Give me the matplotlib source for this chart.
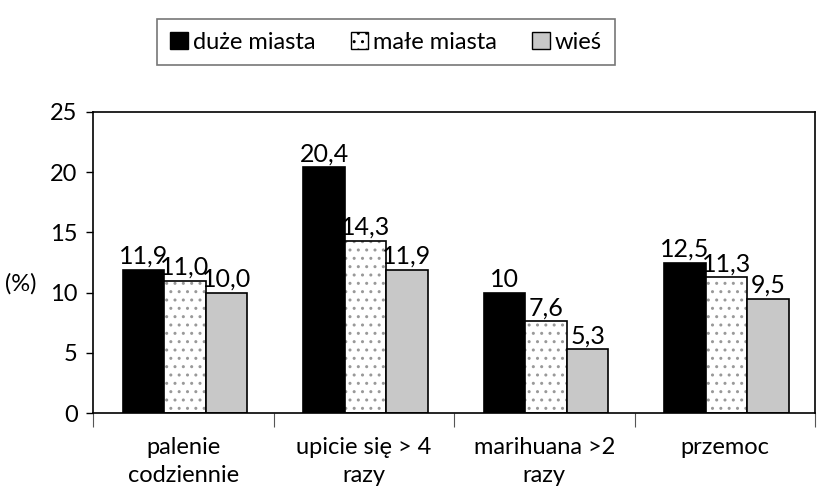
import matplotlib
matplotlib.use("Agg")
import matplotlib.pyplot as plt
from matplotlib.patches import Patch
import numpy as np

plt.rcParams['font.family'] = ['Lato', 'DejaVu Sans']

categories = ["palenie\ncodziennie", "upicie się > 4\nrazy", "marihuana >2\nrazy", "przemoc"]
series_names = ["duże miasta", "małe miasta", "wieś"]
duze = [11.9, 20.4, 10.0, 12.5]
male = [11.0, 14.3, 7.6, 11.3]
wies = [10.0, 11.9, 5.3, 9.5]
labels_duze = ["11,9", "20,4", "10", "12,5"]
labels_male = ["11,0", "14,3", "7,6", "11,3"]
labels_wies = ["10,0", "11,9", "5,3", "9,5"]

FS = 17


def main():
    fig = plt.figure(figsize=(8.34, 4.9), dpi=100)
    ax = fig.add_axes([93 / 834, 1 - 413 / 490, 722 / 834, 301 / 490])

    x = np.arange(len(categories))
    w = 0.23
    offs = [-w + 0.01, 0.01, w + 0.01]

    ax.bar(x + offs[0], duze, w, color="black", edgecolor="black", linewidth=1.2)
    ax.bar(x + offs[1], male, w, color="white", edgecolor="#999999", hatch="..", linewidth=0)
    ax.bar(x + offs[1], male, w, color="none", edgecolor="black", linewidth=1.2)
    ax.bar(x + offs[2], wies, w, color="#c8c8c8", edgecolor="black", linewidth=1.2)

    for vals, labs, off in [(duze, labels_duze, offs[0]), (male, labels_male, offs[1]),
                            (wies, labels_wies, offs[2])]:
        for i, (v, t) in enumerate(zip(vals, labs)):
            ax.text(x[i] + off, v + 0.15, t, ha="center", va="bottom", fontsize=FS + 1)

    ax.set_xlim(-0.5, 3.5)
    ax.set_ylim(0, 25)
    ax.set_yticks([0, 5, 10, 15, 20, 25])
    ax.tick_params(axis="y", labelsize=FS, length=5, direction="out", width=1, pad=6)
    ax.set_xticks([-0.5, 0.5, 1.5, 2.5, 3.5])
    ax.set_xticklabels([])
    ax.tick_params(axis="x", length=10, direction="out", width=0.8, color="#555555")
    for i, c in enumerate(categories):
        ax.text(x[i], -2.0, c, ha="center", va="top", fontsize=FS, linespacing=1.4)
    for s in ax.spines.values():
        s.set_linewidth(1.2)

    ax.set_ylabel("(%)", rotation=0, fontsize=FS, va="center", ha="center")
    ax.yaxis.set_label_coords(-0.1, 0.43)

    handles = [Patch(facecolor="black", edgecolor="black"),
               Patch(facecolor="white", edgecolor="black", hatch=".."),
               Patch(facecolor="#c8c8c8", edgecolor="black")]
    leg = fig.legend(handles, series_names, loc="center", bbox_to_anchor=(386 / 834, 1 - 42 / 490),
                     ncol=3, fontsize=FS, frameon=True, fancybox=False, edgecolor="#555555",
                     handlelength=0.75, handleheight=0.75, handletextpad=0.2, columnspacing=1.5,
                     borderpad=0.55, borderaxespad=0)
    leg.get_frame().set_linewidth(1.2)

    fig.savefig("out.png", dpi=100)


if __name__ == "__main__":
    main()
